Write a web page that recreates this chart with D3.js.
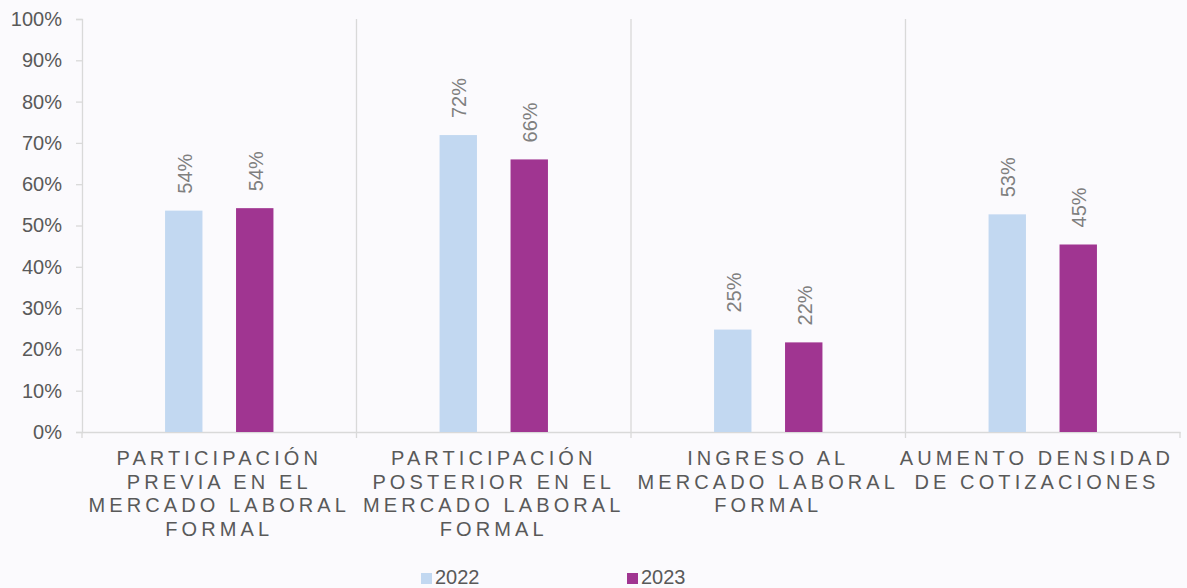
<!DOCTYPE html>
<html><head><meta charset="utf-8">
<script src="https://cdn.jsdelivr.net/npm/d3@7"></script>
<style>body{margin:0;background:#fbfafd;}svg{display:block;font-family:"Liberation Sans",Arial,sans-serif;}</style>
</head><body><svg id="c" width="1187" height="588"></svg>
<script>
const categories = [
  ["PARTICIPACIÓN","PREVIA EN EL","MERCADO LABORAL","FORMAL"],
  ["PARTICIPACIÓN","POSTERIOR EN EL","MERCADO LABORAL","FORMAL"],
  ["INGRESO AL","MERCADO LABORAL","FORMAL"],
  ["AUMENTO DENSIDAD","DE COTIZACIONES"]
];
const seriesNames = ["2022","2023"];
const values2022 = [53.6, 71.9, 24.8, 52.7];
const values2023 = [54.2, 66.0, 21.7, 45.4];
const labels2022 = ["54%","72%","25%","53%"];
const labels2023 = ["54%","66%","22%","45%"];
const yTicks = [0,10,20,30,40,50,60,70,80,90,100];
const colors = ["#c2d8f1","#a03591"];

const svg = d3.select("#c");
const m = {l:82, r:1180, t:19, b:432};
const x = d3.scaleBand().domain(d3.range(categories.length)).range([m.l, m.r]).padding(0);
const xs = d3.scaleBand().domain([0,1]).range([0, x.bandwidth()]).paddingInner(0.473).paddingOuter(1.17);
const y = d3.scaleLinear().domain([0,100]).range([m.b, m.t]);
const grid = "#d9d9d9";

// gridlines between categories
svg.append("g").selectAll("line").data(d3.range(1,categories.length)).join("line")
  .attr("x1", i=>x(i)).attr("x2", i=>x(i)).attr("y1", m.t).attr("y2", m.b+6)
  .attr("stroke",grid).attr("stroke-width",1.3);
[m.l, m.r].forEach(xx=>svg.append("line").attr("x1",xx).attr("x2",xx).attr("y1",m.b).attr("y2",m.b+6).attr("stroke",grid).attr("stroke-width",1.3));

// y axis
const ya = svg.append("g").attr("transform",`translate(${m.l},0)`)
  .call(d3.axisLeft(y).tickValues(yTicks).tickFormat(d=>d+"%").tickSize(6).tickPadding(14));
ya.select(".domain").attr("stroke",grid).attr("stroke-width",1.3);
ya.selectAll(".tick line").attr("stroke",grid).attr("stroke-width",1.3);
ya.selectAll("text").attr("fill","#595959").style("font-size","20px");

// x axis
const xa = svg.append("g").attr("transform",`translate(0,${m.b})`)
  .call(d3.axisBottom(x).tickValues([]).tickSize(0));
xa.select(".domain").attr("stroke",grid).attr("stroke-width",1.3);

// bars
const series = [values2022, values2023];
const lbls = [labels2022, labels2023];
series.forEach((vals,s)=>{
  const g = svg.append("g");
  g.selectAll("rect").data(vals).join("rect")
    .attr("x",(d,i)=>x(i)+xs(s)).attr("width",xs.bandwidth())
    .attr("y",d=>y(d)).attr("height",d=>m.b-y(d)).attr("fill",colors[s]);
  g.selectAll("text").data(vals).join("text")
    .attr("transform",(d,i)=>`translate(${x(i)+xs(s)+xs.bandwidth()/2+8},${y(d)-17}) rotate(-90)`)
    .attr("text-anchor","start").attr("fill","#7f7f7f").style("font-size","20px")
    .text((d,i)=>lbls[s][i]);
});

// category labels (kept inside the chart's right edge)
const ls = 4.1, rightLimit = 1174;
categories.forEach((lines,i)=>{
  const t = svg.append("text").attr("text-anchor","middle").attr("fill","#595959")
    .style("font-size","20px").style("letter-spacing",ls+"px");
  const cx = x(i)+x.bandwidth()/2;
  const spans = lines.map((ln,j)=>t.append("tspan").attr("x",cx).attr("y",465+j*23.7).text(ln));
  const maxW = d3.max(spans, sp=>sp.node().getComputedTextLength());
  const shift = Math.min(0, rightLimit - (cx + maxW/2));
  spans.forEach(sp=>sp.attr("x",cx+shift));
});

// legend
const leg = [{n:seriesNames[0],x:421},{n:seriesNames[1],x:627}];
leg.forEach((l,i)=>{
  svg.append("rect").attr("x",l.x).attr("y",573).attr("width",11).attr("height",11).attr("fill",colors[i]);
  svg.append("text").attr("x",l.x+14).attr("y",584).attr("fill","#595959").style("font-size","20px").text(l.n);
});
</script></body></html>
